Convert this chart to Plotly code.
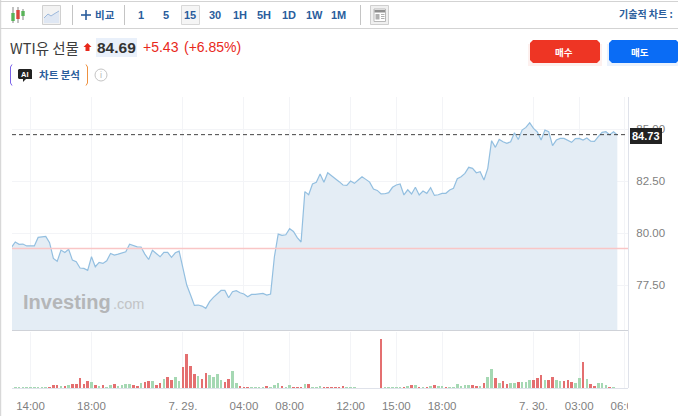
import plotly.graph_objects as go

W, H = 678, 416

# price, one value per 15 min bar
prices = [
    79.31, 79.57, 79.46, 79.47, 79.38, 79.38, 79.38, 79.79, 79.82, 79.84,
    79.54, 78.78, 78.64, 79.18, 79.07, 79.22, 78.70, 78.62, 78.32, 78.30,
    78.21, 78.86, 78.38, 78.59, 78.54, 78.67, 79.02, 78.94, 78.99, 79.04,
    79.10, 79.46, 79.41, 79.34, 79.33, 78.99, 78.73, 79.17, 79.02, 78.86,
    79.07, 79.07, 78.83, 79.05, 79.13, 78.30, 77.50, 77.02, 76.52, 76.54,
    76.49, 76.38, 76.70, 76.91, 77.10, 77.24, 77.24, 76.89, 77.18, 77.23,
    77.13, 77.07, 76.94, 77.05, 77.05, 77.07, 77.10, 77.02, 77.07, 78.86,
    79.95, 79.89, 79.92, 80.21, 80.08, 79.78, 79.57, 81.99, 81.84, 82.36,
    82.44, 82.84, 82.44, 82.90, 82.76, 82.64, 82.47, 82.31, 82.29, 82.50,
    82.39, 82.55, 82.71, 82.58, 82.45, 82.12, 82.05, 81.88, 81.89, 81.94,
    82.20, 82.31, 82.36, 81.83, 82.08, 81.88, 82.20, 81.83, 82.02, 81.91,
    82.18, 81.81, 81.84, 81.91, 81.91, 82.07, 82.15, 82.61, 82.71, 82.87,
    83.16, 83.11, 82.90, 82.95, 82.55, 83.11, 84.44, 84.12, 84.50, 84.39,
    84.31, 84.39, 84.82, 84.50, 84.95, 85.08, 85.30, 85.03, 84.86, 84.47,
    84.95, 84.87, 84.20, 84.47, 84.55, 84.55, 84.47, 84.36, 84.54, 84.55,
    84.47, 84.57, 84.42, 84.41, 84.63, 84.84, 84.87, 84.73, 84.87, 84.71,
]

volumes = [
    0, 3, 1, 1, 1, 1, 3, 5, 3, 3,
    4, 9, 9, 8, 8, 11, 14, 13, 30, 13,
    22, 18, 9, 7, 11, 2, 9, 14, 6, 11,
    13, 13, 9, 6, 16, 18, 21, 22, 11, 16,
    27, 33, 24, 35, 22, 63, 101, 66, 42, 36,
    29, 45, 41, 33, 42, 24, 20, 27, 53, 15,
    8, 3, 2, 1, 4, 3, 1, 8, 2, 10,
    15, 8, 1, 10, 4, 5, 3, 13, 13, 5,
    3, 7, 2, 2, 1, 2, 2, 7, 2, 2,
    1, 0, 0, 0, 0, 0, 0, 147, 2, 2,
    2, 2, 2, 5, 6, 9, 11, 5, 3, 5,
    8, 11, 8, 8, 3, 4, 5, 14, 7, 9,
    10, 10, 6, 6, 17, 33, 59, 31, 17, 23,
    14, 17, 17, 20, 20, 18, 26, 26, 31, 41,
    26, 26, 34, 26, 21, 21, 26, 18, 15, 31,
    79, 29, 12, 8, 15, 15, 11, 5, 3, 0,
]

# r = red bar, g = green bar, ten bars per group
vol_sides = (
    "ggggggggggrrrgrgrrrr"
    "rgrgrggrgg" "ggrrgrrgrr" "grrggrrrrg" "rrggggrrgg"
    "rrrggggrgg" "grggrrrgrg" "ggrrrrrrgg" "gggggggrgg"
    "gggrgrgrgr" "grggrggggg" "grrgrggrgr" "rggrgggrrr"
    "grrggrrrgg" "rgrrgggrgg"
)

tick_pos = [5, 21, 45, 61, 73, 89, 101, 113, 137, 149, 161]
tick_text = ["14:00", "18:00", "7. 29.", "04:00", "08:00", "12:00",
             "15:00", "18:00", "7. 30.", "03:00", "06:00"]
price_ticks = [77.5, 80, 82.5, 85]
price_labels = ["77.50", "80.00", "82.50", "85.00"]
prev_close = 79.26
last_price = 84.73
menu_items = ["1", "5", "15", "30", "1H", "5H", "1D", "1W", "1M"]
menu_x = [141, 166, 190, 215, 240, 264, 289, 314, 338]

KR = "Noto Sans CJK KR, Liberation Sans, sans-serif"
LAT = "Liberation Sans, Arial, sans-serif"
BLUE = "#2a5d9c"
GREY = "#d3d3d3"

idx = list(range(len(prices)))
bar_colors = ["#e46f70" if s == "r" else "#a5d8b3" for s in vol_sides]

fig = go.Figure()
fig.add_trace(go.Scatter(
    x=idx, y=prices, mode="lines", fill="tozeroy",
    line=dict(color="#93bfe0", width=1.2), fillcolor="#e4edf5",
    xaxis="x", yaxis="y", hoverinfo="skip",
))
fig.add_trace(go.Bar(
    x=idx, y=volumes, marker_color=bar_colors, marker_line_width=0, width=0.68,
    xaxis="x2", yaxis="y2", hoverinfo="skip",
))


def px(x):
    return x / W


def py(y):
    return 1 - y / H


shapes = []
notes = []


def rect(x0, y0, x1, y1, fill, line=None, lw=1):
    shapes.append(dict(
        type="rect", xref="paper", yref="paper", layer="above",
        x0=px(x0), x1=px(x1), y0=py(y0), y1=py(y1), fillcolor=fill,
        line=dict(color=line or fill, width=lw if line else 0),
    ))


def seg(x0, y0, x1, y1, color, lw=1):
    shapes.append(dict(
        type="line", xref="paper", yref="paper", layer="above",
        x0=px(x0), x1=px(x1), y0=py(y0), y1=py(y1),
        line=dict(color=color, width=lw),
    ))


def poly(points, fill, line=None, lw=0):
    d = "M " + " L ".join(f"{px(a):.5f},{py(b):.5f}" for a, b in points) + " Z"
    shapes.append(dict(
        type="path", xref="paper", yref="paper", layer="above", path=d,
        fillcolor=fill, line=dict(color=line or fill, width=lw),
    ))


def text(x, y, s, size, color, anchor="center", font=KR, bold=False):
    if bold:
        s = f"<b>{s}</b>"
    notes.append(dict(
        xref="paper", yref="paper", x=px(x), y=py(y), text=s, showarrow=False,
        xanchor=anchor, yanchor="middle", align="left",
        font=dict(size=size, color=color, family=font),
        borderpad=0, borderwidth=0,
    ))


# page frame and toolbar
rect(0, 0, 1.2, H, "#d8d8d8")
seg(0, 1.5, W, 1.5, GREY, 1.2)
seg(0, 28.5, W, 28.5, GREY, 1.2)

# candlestick icon
for cx, top, bot, c0, c1, col in [(13, 7, 23, 13, 21, "#59b359"),
                                  (18, 7, 23, 10, 19, "#d9453d"),
                                  (23, 9, 20, 11, 16, "#59b359")]:
    seg(cx, top, cx, bot, "#a8a8a8", 1.4)
    rect(cx - 1.7, c0, cx + 1.7, c1, col)

# area icon
rect(42.5, 5.5, 60.5, 24.5, "#f2f2f2", "#d0d0d0", 1)
poly([(44, 18), (48, 14), (51, 16), (54, 14), (59, 11), (59, 23), (44, 23)], "#dfe7f3")
for a, b, c, d in [(44, 18, 48, 14), (48, 14, 51, 16), (51, 16, 54, 14), (54, 14, 59, 11)]:
    seg(a, b, c, d, "#9db9dc", 1)

seg(72.5, 5, 72.5, 25, "#c4c4c4", 1)
seg(81, 15, 91, 15, BLUE, 1.6)
seg(86, 10, 86, 20, BLUE, 1.6)
text(105, 14.5, "비교", 10.5, BLUE, bold=True)
seg(124.5, 5, 124.5, 25, "#c4c4c4", 1)

rect(181.5, 5.5, 199.5, 24.5, "#f5f5f5", "#d8d8d8", 1)
for lab, mx in zip(menu_items, menu_x):
    text(mx, 14.5, lab, 11, BLUE, font=LAT, bold=True)

seg(360.5, 5, 360.5, 25, "#c4c4c4", 1)
rect(370.5, 5.5, 388.5, 24.5, "#f0f0f0", "#cfcfcf", 1)
rect(374, 9, 385.5, 21.5, "#ffffff", "#b8b8b8", 1)
rect(374.5, 10, 385, 12.5, "#8f8f8f")
rect(375.5, 14, 379.5, 19.5, "#b0b0b0")
for yy in [14.5, 16.5, 18.5]:
    seg(381, yy, 384.5, yy, "#b0b0b0", 1)
text(646, 14, "기술적 차트 :", 10, BLUE, bold=True)

# instrument header
text(10, 47, "WTI유 선물", 14.5, "#3c3c3c", anchor="left")
poly([(87.5, 43), (91.5, 47), (89.5, 47), (89.5, 51), (85.5, 51), (85.5, 47), (83.5, 47)], "#e8281b")
rect(96, 38, 137, 57, "#e9f0fa")
text(97, 47.5, "84.69", 15.5, "#333333", anchor="left", font=LAT, bold=True)
text(143, 47, "+5.43", 14, "#e8281b", anchor="left", font=LAT)
text(184, 47, "(+6.85%)", 14, "#e8281b", anchor="left", font=LAT)

# AI chip
seg(12, 64.5, 10.5, 67, "#7a63e8", 1)
seg(10.5, 67, 10.5, 83, "#7a63e8", 1)
seg(10.5, 83, 12, 85.5, "#7a63e8", 1)
seg(86, 64.5, 87.5, 67, "#ee9140", 1)
seg(87.5, 67, 87.5, 83, "#ee9140", 1)
seg(87.5, 83, 86, 85.5, "#ee9140", 1)
poly([(19, 69), (31, 69), (32, 70), (32, 79), (26, 79), (23, 82), (23, 79), (19, 79), (18, 78), (18, 70)], "#222222")
text(25, 74, "AI", 7.5, "#ffffff", font=LAT, bold=True)
text(59.5, 74, "차트 분석", 10.5, BLUE, bold=True)
shapes.append(dict(
    type="circle", xref="paper", yref="paper", layer="above",
    x0=px(95), x1=px(107), y0=py(69), y1=py(81), fillcolor="#ffffff",
    line=dict(color="#c4c4c4", width=1),
))
text(101, 75, "i", 9, "#b5b5b5", font=LAT)

# buy / sell buttons
rect(528, 44, 602, 66, "#fdf0ee")
rect(607, 44, W, 66, "#eaf2fd")
for x0, col, lab, cx in [(530, "#ee3524", "매수", 564), (609, "#0a6cf5", "매도", 640)]:
    x1 = x0 + 70
    poly([(x0 + 3, 40), (x1 - 3, 40), (x1, 43), (x1, 60), (x1 - 3, 63),
          (x0 + 3, 63), (x0, 60), (x0, 43)], col)
    text(cx, 52, lab, 9.5, "#ffffff", bold=True)

# watermark
text(23, 302, "<b>Investing</b>", 20, "#b4b6b8", anchor="left", font=LAT)
text(113, 304, ".com", 14.5, "#c2c4c6", anchor="left", font=LAT)

# reference lines in data space
shapes.append(dict(type="line", xref="x", yref="y", x0=0.14, x1=161.8,
                   y0=prev_close, y1=prev_close, line=dict(color="#f9c6c6", width=1.4), layer="above"))
shapes.append(dict(type="line", xref="x", yref="y", x0=0.14, x1=161.8,
                   y0=last_price, y1=last_price, line=dict(color="#444444", width=1, dash="4px,3px"), layer="above"))

# pane frame
seg(12, 330.5, 628, 330.5, "#cfd2d8", 1.2)
seg(628.5, 97, 628.5, 388, "#dfe2ea", 1)
seg(12, 388.5, 628, 388.5, "#dfe2ea", 1)

# last price tag
rect(630, 128, 662, 144, "#222222")
text(646, 136, "<b>84.73</b>", 11, "#ffffff", font=LAT)

# clip the last time label at the edge of the pane
rect(628, 392, 650, 412, "#ffffff")

grid = "#f3f4f7"
x_common = dict(range=[0.14, 161.8], tickmode="array", tickvals=tick_pos,
                showgrid=True, gridcolor=grid, gridwidth=1, zeroline=False, showline=False)
fig.update_layout(
    width=W, height=H, margin=dict(l=0, r=0, t=0, b=0, autoexpand=False),
    paper_bgcolor="#ffffff", plot_bgcolor="#ffffff",
    showlegend=False, bargap=0, hovermode=False,
    xaxis=dict(domain=[12 / W, 628 / W], anchor="y", showticklabels=False, ticks="", **x_common),
    xaxis2=dict(domain=[12 / W, 628 / W], anchor="y2", ticktext=tick_text, ticks="outside",
                ticklen=7, tickcolor="#ffffff",
                tickfont=dict(size=11.5, color="#7f7f7f", family=LAT), **x_common),
    yaxis=dict(domain=[py(330), py(97)], range=[75.34, 86.54], side="right", anchor="x",
               tickmode="array", tickvals=price_ticks, ticktext=price_labels,
               ticks="outside", ticklen=5, tickcolor="#ffffff",
               tickfont=dict(size=11.5, color="#7f7f7f", family=LAT),
               showgrid=True, gridcolor=grid, zeroline=False, showline=False),
    yaxis2=dict(domain=[py(388.3), py(332)], range=[0, 168], anchor="x2",
                showticklabels=False, showgrid=False, zeroline=False, showline=False, ticks=""),
    shapes=shapes, annotations=notes,
)

fig.write_html("out.html", config=dict(displayModeBar=False),
               post_script="document.body.style.margin='0';document.body.style.overflow='hidden';")
